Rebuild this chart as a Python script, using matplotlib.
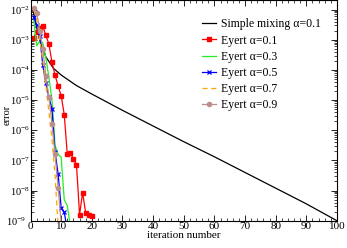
import numpy as np
import matplotlib
matplotlib.use('Agg')
import matplotlib.pyplot as plt
from matplotlib.ticker import MultipleLocator, FixedLocator, NullFormatter
from matplotlib.transforms import ScaledTranslation

# log10(error), per iteration
simple_it = [1, 2, 3, 4, 5, 7.5, 10, 15, 20, 25, 30, 35, 40, 45, 50, 55, 60, 65, 70, 75, 80, 85, 90, 95, 100]
simple_log = [-2.1, -2.6, -3.0, -3.3, -3.57, -3.95, -4.17, -4.52, -4.8, -5.07, -5.34, -5.6, -5.86,
              -6.12, -6.38, -6.63, -6.88, -7.14, -7.4, -7.66, -7.92, -8.18, -8.44, -8.72, -9.0]

red_it = list(range(1, 21))
red_log = [-2.93, -2.75, -2.6, -2.55, -2.85, -3.15, -3.75, -4.17, -4.54, -4.85, -5.48,
           -6.8, -6.75, -6.95, -7.15, -8.8, -8.07, -8.75, -8.8, -8.85]

green_it = list(range(1, 14))
green_log = [-2.3, -3.2, -3.05, -3.1, -3.6, -4.25, -5.0, -6.5, -6.8, -6.9, -8.3, -8.5, -9.2]

blue_it = list(range(1, 13))
blue_log = [-2.25, -2.5, -2.88, -3.85, -4.45, -4.9, -5.3, -6.72, -7.45, -8.57, -8.72, -9.3]

orange_it = list(range(1, 10))
orange_log = [-2.0, -2.3, -3.0, -3.7, -4.5, -5.4, -6.3, -7.5, -9.2]

brown_it = list(range(1, 11))
brown_log = [-1.95, -2.1, -2.7, -3.3, -4.2, -4.9, -5.8, -6.8, -7.9, -9.1]

decades = list(range(-9, -1))

plt.rcParams['font.family'] = 'Liberation Serif'
plt.rcParams['font.size'] = 8.5
plt.rcParams['mathtext.fontset'] = 'custom'
plt.rcParams['mathtext.rm'] = 'Liberation Serif'
plt.rcParams['mathtext.it'] = 'Liberation Serif:italic'

fig = plt.figure(figsize=(3.47, 2.48), dpi=100)
ax = fig.add_axes([0.088, 0.11, 0.883, 0.888])

ax.plot(simple_it, 10**np.array(simple_log), color='black', lw=0.9, label='Simple mixing α=0.1')
ax.plot(red_it, 10**np.array(red_log), color='red', lw=0.9, marker='s', ms=3, label='Eyert α=0.1')
ax.plot(green_it, 10**np.array(green_log), color='#22ee22', lw=0.9, label='Eyert α=0.3')
ax.plot(blue_it, 10**np.array(blue_log), color='blue', lw=0.9, marker='x', ms=3.5, mew=0.9, label='Eyert α=0.5')
ax.plot(orange_it, 10**np.array(orange_log), color='orange', lw=0.9, ls=(0, (4, 3)), label='Eyert α=0.7')
ax.plot(brown_it, 10**np.array(brown_log), color='#bc8f8f', lw=0.9, marker='o', ms=3, label='Eyert α=0.9')

ax.set_yscale('log')
ax.set_xlim(0, 100)
ax.set_ylim(1e-9, 2e-2)
ax.xaxis.set_major_locator(MultipleLocator(10))
ax.xaxis.set_minor_locator(MultipleLocator(2))
# only ticks inside the visible range
ax.yaxis.set_major_locator(FixedLocator([10.0**d for d in decades]))
ax.set_yticklabels([r'$10^{%d}$' % d for d in decades])
minor = [m * 10.0**d for d in decades for m in range(2, 10) if m * 10.0**d <= 2e-2]
ax.yaxis.set_minor_locator(FixedLocator(minor))
ax.yaxis.set_minor_formatter(NullFormatter())
ax.tick_params(which='both', direction='in', top=True, right=True, pad=1.5)
ax.tick_params(axis='y', which='major', labelsize=7.5, pad=0.5)
ax.tick_params(axis='x', which='major', labelsize=8, pad=1)
ax.tick_params(which='major', length=4, width=0.6)
ax.tick_params(which='minor', length=2, width=0.5)
for s in ax.spines.values():
    s.set_linewidth(0.8)

# nudge the 10^-9 label left so it clears the "0" below it
lab = ax.get_yticklabels()[0]
lab.set_transform(lab.get_transform() + ScaledTranslation(-3 / 72, 0, fig.dpi_scale_trans))

ax.set_xlabel('iteration number', fontsize=8, labelpad=0)
ax.set_ylabel('error', fontsize=7.5)
ax.yaxis.set_label_coords(-0.0615, 0.48)
ax.legend(loc='upper right', bbox_to_anchor=(0.962, 0.94), frameon=False, fontsize=8.5,
          handlelength=1.2, handletextpad=0.4, labelspacing=0.35, borderaxespad=0)

fig.savefig('out.png', dpi=100)
